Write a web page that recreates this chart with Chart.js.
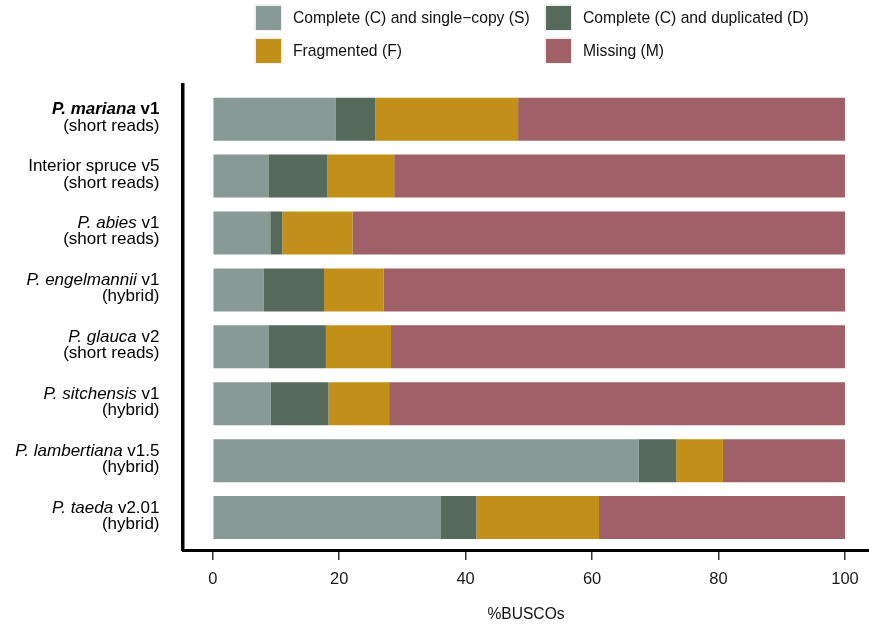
<!DOCTYPE html>
<html>
<head>
<meta charset="utf-8">
<title>BUSCO completeness</title>
<script src="https://cdn.jsdelivr.net/npm/chart.js@4.4.1/dist/chart.umd.min.js"></script>
<style>
  html, body { margin: 0; padding: 0; background: #fff; overflow: hidden; }
  #wrap { position: relative; width: 869px; height: 627px; }
  #legend { position: absolute; left: 0; top: 0; width: 869px; height: 70px;
            font-family: "Liberation Sans", Arial, Helvetica, sans-serif; font-size: 15.7px; color: #111; }
  .key { position: absolute; width: 28px; height: 27px; background: #f0f0f0; }
  .key span { position: absolute; left: 1.5px; top: 1.5px; right: 1.5px; bottom: 1.5px; }
  .key-label { position: absolute; line-height: 27px; white-space: nowrap; }
</style>
</head>
<body>
<div id="wrap">
  <canvas id="busco-chart" width="869" height="627"></canvas>
  <div id="legend"></div>
</div>
<script>
// assemblies, top to bottom
const species = ['P. mariana', 'Interior spruce', 'P. abies', 'P. engelmannii',
                 'P. glauca', 'P. sitchensis', 'P. lambertiana', 'P. taeda'];
const versions = ['v1', 'v5', 'v1', 'v1', 'v2', 'v1', 'v1.5', 'v2.01'];
const assemblyTypes = ['(short reads)', '(short reads)', '(short reads)', '(hybrid)',
                       '(short reads)', '(hybrid)', '(hybrid)', '(hybrid)'];
const italicName = [true, false, true, true, true, true, true, true];
const boldRow = 0;

// % of BUSCOs per category
const singleCopy = [19.4, 8.8, 9.1, 8.1, 8.8, 9.2, 67.4, 36.0];
const duplicated = [6.3, 9.3, 1.9, 9.5, 9.1, 9.1, 5.9, 5.7];
const fragmented = [22.6, 10.6, 11.1, 9.4, 10.3, 9.6, 7.4, 19.4];
const missing = [51.7, 71.3, 77.9, 73.0, 71.8, 72.1, 19.3, 38.9];

const seriesLabels = ['Complete (C) and single\u2212copy (S)', 'Complete (C) and duplicated (D)',
                      'Fragmented (F)', 'Missing (M)'];
const seriesColors = ['#879a95', '#566a5b', '#c28f18', '#a06068'];
const xTicks = [0, 20, 40, 60, 80, 100];

const FONT = '"Liberation Sans", Arial, Helvetica, sans-serif';

// each row sits at y = 1..8 on a linear axis so the padding around the bars can be set freely
function rowPoints(values) {
  return values.map((v, i) => ({ x: v, y: i + 1 }));
}

const datasets = [singleCopy, duplicated, fragmented, missing].map((vals, k) => ({
  label: seriesLabels[k],
  data: rowPoints(vals),
  backgroundColor: seriesColors[k],
  borderWidth: 0,
  categoryPercentage: 1,
  barPercentage: 0.755
}));

// two-line row labels with italic species names
const rowLabels = {
  id: 'rowLabels',
  afterDraw(chart) {
    const ctx = chart.ctx;
    const yScale = chart.scales.y;
    const right = 159.5;
    const size = 17;
    ctx.save();
    ctx.fillStyle = '#000';
    ctx.textBaseline = 'alphabetic';
    ctx.textAlign = 'left';
    species.forEach((name, i) => {
      const cy = yScale.getPixelForValue(i + 1);
      const weight = i === boldRow ? 'bold ' : '';
      const nameFont = (italicName[i] ? 'italic ' : '') + weight + size + 'px ' + FONT;
      const verFont = weight + size + 'px ' + FONT;
      ctx.font = nameFont;
      const w1 = ctx.measureText(name).width;
      ctx.font = verFont;
      const w2 = ctx.measureText(' ' + versions[i]).width;
      let x = right - w1 - w2;
      ctx.font = nameFont;
      ctx.fillText(name, x, cy - 5);
      ctx.font = verFont;
      ctx.fillText(' ' + versions[i], x + w1, cy - 5);
      ctx.font = size + 'px ' + FONT;
      ctx.textAlign = 'right';
      ctx.fillText(assemblyTypes[i], right, cy + 11.5);
      ctx.textAlign = 'left';
    });
    ctx.restore();
  }
};

const ctx = document.getElementById('busco-chart');
new Chart(ctx, {
  type: 'bar',
  data: { datasets: datasets },
  plugins: [rowLabels],
  options: {
    indexAxis: 'y',
    responsive: false,
    animation: false,
    devicePixelRatio: 1,
    layout: { padding: { top: 85, left: 0, right: 0, bottom: 0 } },
    plugins: {
      legend: { display: false },
      tooltip: { enabled: true }
    },
    scales: {
      x: {
        type: 'linear',
        stacked: true,
        min: -4.7,
        max: 103.8,
        afterBuildTicks: (scale) => { scale.ticks = xTicks.map(v => ({ value: v })); },
        afterFit: (scale) => { scale.height = 77; },
        border: { display: true, color: '#000', width: 3 },
        grid: { display: true, drawOnChartArea: false, drawTicks: true,
                tickLength: 10, tickColor: '#333', lineWidth: 1.5 },
        ticks: { color: '#1a1a1a', padding: 10, font: { family: FONT, size: 16.5 } },
        title: { display: true, text: '%BUSCOs', color: '#111',
                 font: { family: FONT, size: 15.6 }, padding: { top: 0, bottom: 2.5 } }
      },
      y: {
        type: 'linear',
        stacked: true,
        reverse: true,
        offset: false,
        min: 0.4,
        max: 8.57,
        afterBuildTicks: (scale) => { scale.ticks = species.map((s, i) => ({ value: i + 1 })); },
        afterFit: (scale) => { scale.width = 183; },
        border: { display: true, color: '#000', width: 3.5 },
        grid: { display: false, offset: false },
        ticks: { display: false }
      }
    }
  }
});

// legend in two columns
const legend = document.getElementById('legend');
const keyPos = [[254, 4], [544, 4], [254, 37], [544, 37]];
seriesLabels.forEach((label, k) => {
  const [x, y] = keyPos[k];
  const key = document.createElement('div');
  key.className = 'key';
  key.style.left = x + 'px';
  key.style.top = y + 'px';
  const fill = document.createElement('span');
  fill.style.background = seriesColors[k];
  key.appendChild(fill);
  legend.appendChild(key);
  const text = document.createElement('div');
  text.className = 'key-label';
  text.style.left = (x + 39) + 'px';
  text.style.top = y + 'px';
  text.textContent = label;
  legend.appendChild(text);
});
</script>
</body>
</html>
